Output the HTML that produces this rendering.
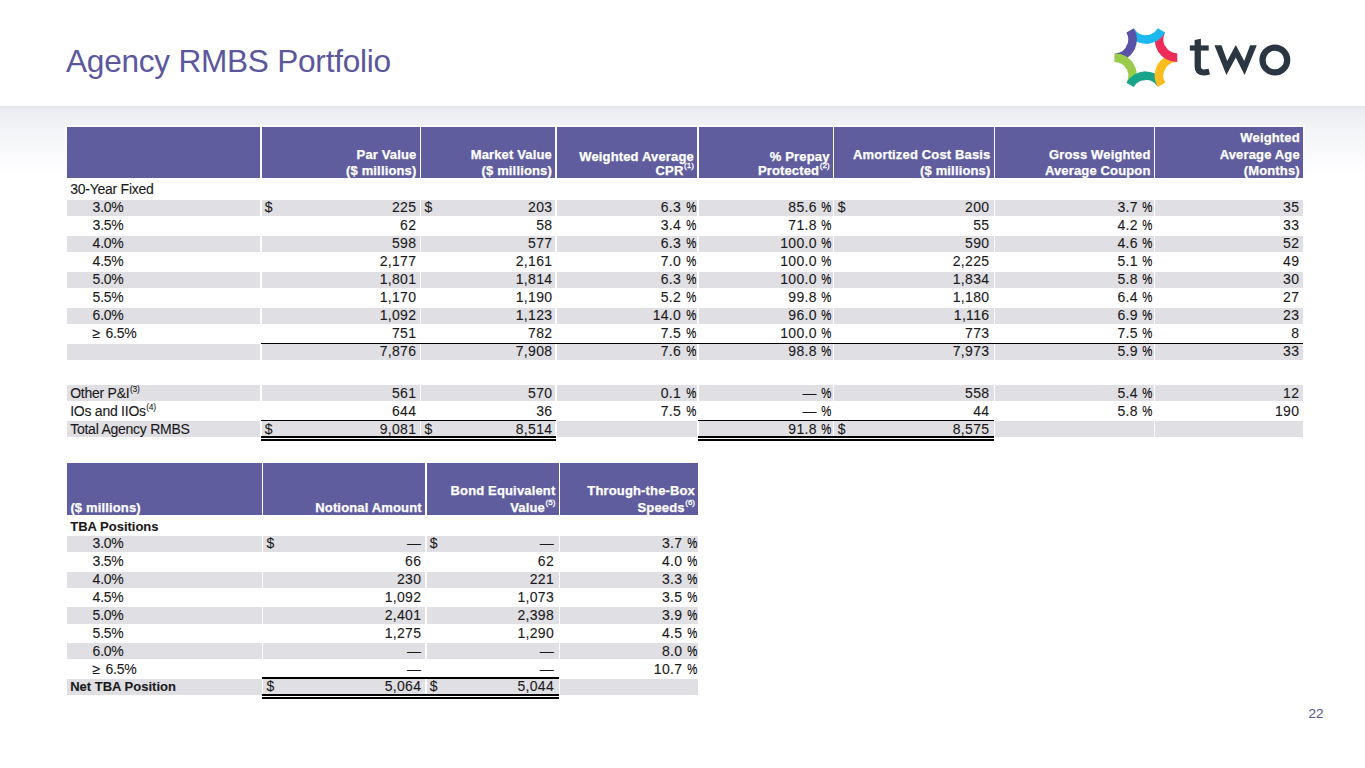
<!DOCTYPE html>
<html><head><meta charset="utf-8"><title>Agency RMBS Portfolio</title>
<style>
html,body{margin:0;padding:0;}
body{width:1365px;height:768px;position:relative;overflow:hidden;background:#fff;font-family:"Liberation Sans",sans-serif;color:#1a1a1a;}
.band{position:absolute;left:0;top:106px;width:1365px;height:72px;background:linear-gradient(to bottom,#e5e8eb 0px,#eceef1 7px,#f1f2f5 18px,#f6f7f9 36px,#fbfbfd 54px,#ffffff 72px);}
.t{position:absolute;white-space:nowrap;line-height:16px;height:16px;-webkit-text-stroke-width:0.1px;}
.n{letter-spacing:0.3px;}
.h{letter-spacing:0.15px;-webkit-text-stroke-width:0.25px;}
.pc{font-size:14px;letter-spacing:0;display:inline-block;transform:scaleX(0.81);transform-origin:100% 50%;margin-left:-1.7px;color:#000;-webkit-text-stroke-width:0.12px;}
.l{letter-spacing:-0.25px;}
.b{position:absolute;}
.sup{font-size:8.5px;position:relative;top:-6px;margin-left:0.5px;}
.hsup{font-size:8px;position:relative;top:-7px;margin-left:0.6px;letter-spacing:0;font-weight:normal;-webkit-text-stroke-width:0.3px;}
.title{position:absolute;left:66.0px;top:40.8px;font-size:31.6px;letter-spacing:-0.25px;line-height:40px;color:#5b579d;white-space:nowrap;}
</style></head><body>
<div class="band"></div>
<div class="title">Agency RMBS Portfolio</div>
<svg style="position:absolute;left:1105px;top:20px" width="195" height="80" viewBox="0 0 195 80">
<g fill="none" stroke-width="8.6" stroke-linecap="butt">
<path d="M43.95 19.17 A18.15 18.15 0 0 1 25.93 11.71" stroke="#1cb8ee"/>
<path d="M58.33 31.12 A18.15 18.15 0 0 1 55.79 11.78" stroke="#ec2d5a"/>
<path d="M55.18 49.54 A18.15 18.15 0 0 1 70.65 37.67" stroke="#fdbd20"/>
<path d="M37.65 56.03 A18.15 18.15 0 0 1 55.67 63.49" stroke="#18a48a"/>
<path d="M23.27 44.08 A18.15 18.15 0 0 1 25.81 63.42" stroke="#9acb4a"/>
<path d="M26.42 25.66 A18.15 18.15 0 0 1 10.95 37.53" stroke="#5a52a6"/>
<path d="M56.52 10.38 A18.15 18.15 0 0 1 40.80 19.45" stroke="#1cb8ee"/>
<path d="M72.24 37.60 A18.15 18.15 0 0 1 56.52 28.52" stroke="#ec2d5a"/>
<path d="M56.52 64.83 A18.15 18.15 0 0 1 56.52 46.68" stroke="#fdbd20"/>
<path d="M25.08 64.83 A18.15 18.15 0 0 1 40.80 55.75" stroke="#18a48a"/>
<path d="M9.36 37.60 A18.15 18.15 0 0 1 25.08 46.68" stroke="#9acb4a"/>
<path d="M25.08 10.38 A18.15 18.15 0 0 1 25.08 28.53" stroke="#5a52a6"/>
</g>
<g fill="#2a3742">
<path d="M89.60 20.10 L95.90 18.80 L95.90 46.50 Q95.90 49.40 99.00 49.40 L103.60 48.80 L105.00 54.40 Q101.50 55.40 98.50 55.40 Q89.60 55.40 89.60 46.50 Z"/>
<rect x="84.80" y="25.40" width="18.9" height="5.2"/>
<polygon points="109.40,25.20 116.50,25.20 122.20,41.00 130.80,25.00 139.20,41.00 145.10,25.20 151.80,25.20 139.60,54.90 130.80,37.40 121.40,54.90"/>
</g>
<circle cx="169.85" cy="40.00" r="12.35" fill="none" stroke="#2a3742" stroke-width="6.2"/>

</svg>
<div class="b" style="left:65.00px;top:125.00px;width:1240.00px;height:52.90px;background:#fbfbfd"></div>
<div class="b" style="left:67.00px;top:127.20px;width:192.95px;height:50.70px;background:#605d9f"></div>
<div class="b" style="left:261.65px;top:127.20px;width:158.00px;height:50.70px;background:#605d9f"></div>
<div class="b" style="left:421.35px;top:127.20px;width:133.80px;height:50.70px;background:#605d9f"></div>
<div class="b" style="left:556.85px;top:127.20px;width:140.20px;height:50.70px;background:#605d9f"></div>
<div class="b" style="left:698.75px;top:127.20px;width:134.00px;height:50.70px;background:#605d9f"></div>
<div class="b" style="left:834.45px;top:127.20px;width:159.20px;height:50.70px;background:#605d9f"></div>
<div class="b" style="left:995.35px;top:127.20px;width:158.40px;height:50.70px;background:#605d9f"></div>
<div class="b" style="left:1155.45px;top:127.20px;width:147.55px;height:50.70px;background:#605d9f"></div>
<div class="t h" style="right:948.55px;top:147px;font-size:13px;font-weight:bold;color:#fff;">Par Value</div>
<div class="t h" style="right:948.55px;top:163px;font-size:13px;font-weight:bold;color:#fff;">($ millions)</div>
<div class="t h" style="right:813.05px;top:147px;font-size:13px;font-weight:bold;color:#fff;">Market Value</div>
<div class="t h" style="right:813.05px;top:163px;font-size:13px;font-weight:bold;color:#fff;">($ millions)</div>
<div class="t h" style="right:671.15px;top:149px;font-size:13px;font-weight:bold;color:#fff;">Weighted Average</div>
<div class="t h" style="right:671.15px;top:163px;font-size:13px;font-weight:bold;color:#fff;">CPR<span class="hsup">(1)</span></div>
<div class="t h" style="right:535.45px;top:149px;font-size:13px;font-weight:bold;color:#fff;">% Prepay</div>
<div class="t h" style="right:535.45px;top:163px;font-size:13px;font-weight:bold;color:#fff;">Protected<span class="hsup">(2)</span></div>
<div class="t h" style="right:374.55px;top:147px;font-size:13px;font-weight:bold;color:#fff;">Amortized Cost Basis</div>
<div class="t h" style="right:374.55px;top:163px;font-size:13px;font-weight:bold;color:#fff;">($ millions)</div>
<div class="t h" style="right:214.45px;top:147px;font-size:13px;font-weight:bold;color:#fff;">Gross Weighted</div>
<div class="t h" style="right:214.45px;top:163px;font-size:13px;font-weight:bold;color:#fff;">Average Coupon</div>
<div class="t h" style="right:65.20px;top:130px;font-size:13px;font-weight:bold;color:#fff;">Weighted</div>
<div class="t h" style="right:65.20px;top:147px;font-size:13px;font-weight:bold;color:#fff;">Average Age</div>
<div class="t h" style="right:65.20px;top:163px;font-size:13px;font-weight:bold;color:#fff;">(Months)</div>
<div class="t l" style="left:70.20px;top:181px;font-size:14px;">30-Year Fixed</div>
<div class="b" style="left:67.00px;top:199.50px;width:192.95px;height:16.30px;background:#e0dfe4"></div>
<div class="b" style="left:261.65px;top:199.50px;width:158.00px;height:16.30px;background:#e0dfe4"></div>
<div class="b" style="left:421.35px;top:199.50px;width:133.80px;height:16.30px;background:#e0dfe4"></div>
<div class="b" style="left:556.85px;top:199.50px;width:140.20px;height:16.30px;background:#e0dfe4"></div>
<div class="b" style="left:698.75px;top:199.50px;width:134.00px;height:16.30px;background:#e0dfe4"></div>
<div class="b" style="left:834.45px;top:199.50px;width:159.20px;height:16.30px;background:#e0dfe4"></div>
<div class="b" style="left:995.35px;top:199.50px;width:158.40px;height:16.30px;background:#e0dfe4"></div>
<div class="b" style="left:1155.45px;top:199.50px;width:147.55px;height:16.30px;background:#e0dfe4"></div>
<div class="t n" style="left:264.85px;top:199px;font-size:14px;">$</div>
<div class="t n" style="right:948.75px;top:199px;font-size:14px;">225</div>
<div class="t n" style="left:424.55px;top:199px;font-size:14px;">$</div>
<div class="t n" style="right:812.70px;top:199px;font-size:14px;">203</div>
<div class="t n" style="right:668.95px;top:199px;font-size:14px;">6.3 <span class="pc">%</span></div>
<div class="t n" style="right:533.25px;top:199px;font-size:14px;">85.6 <span class="pc">%</span></div>
<div class="t n" style="left:837.65px;top:199px;font-size:14px;">$</div>
<div class="t n" style="right:375.70px;top:199px;font-size:14px;">200</div>
<div class="t n" style="right:212.25px;top:199px;font-size:14px;">3.7 <span class="pc">%</span></div>
<div class="t n" style="right:65.75px;top:199px;font-size:14px;">35</div>
<div class="t l" style="left:92.60px;top:199px;font-size:14px;">3.0%</div>
<div class="t n" style="right:948.75px;top:217px;font-size:14px;">62</div>
<div class="t n" style="right:812.70px;top:217px;font-size:14px;">58</div>
<div class="t n" style="right:668.95px;top:217px;font-size:14px;">3.4 <span class="pc">%</span></div>
<div class="t n" style="right:533.25px;top:217px;font-size:14px;">71.8 <span class="pc">%</span></div>
<div class="t n" style="right:375.70px;top:217px;font-size:14px;">55</div>
<div class="t n" style="right:212.25px;top:217px;font-size:14px;">4.2 <span class="pc">%</span></div>
<div class="t n" style="right:65.75px;top:217px;font-size:14px;">33</div>
<div class="t l" style="left:92.60px;top:217px;font-size:14px;">3.5%</div>
<div class="b" style="left:67.00px;top:235.60px;width:192.95px;height:16.30px;background:#e0dfe4"></div>
<div class="b" style="left:261.65px;top:235.60px;width:158.00px;height:16.30px;background:#e0dfe4"></div>
<div class="b" style="left:421.35px;top:235.60px;width:133.80px;height:16.30px;background:#e0dfe4"></div>
<div class="b" style="left:556.85px;top:235.60px;width:140.20px;height:16.30px;background:#e0dfe4"></div>
<div class="b" style="left:698.75px;top:235.60px;width:134.00px;height:16.30px;background:#e0dfe4"></div>
<div class="b" style="left:834.45px;top:235.60px;width:159.20px;height:16.30px;background:#e0dfe4"></div>
<div class="b" style="left:995.35px;top:235.60px;width:158.40px;height:16.30px;background:#e0dfe4"></div>
<div class="b" style="left:1155.45px;top:235.60px;width:147.55px;height:16.30px;background:#e0dfe4"></div>
<div class="t n" style="right:948.75px;top:235px;font-size:14px;">598</div>
<div class="t n" style="right:812.70px;top:235px;font-size:14px;">577</div>
<div class="t n" style="right:668.95px;top:235px;font-size:14px;">6.3 <span class="pc">%</span></div>
<div class="t n" style="right:533.25px;top:235px;font-size:14px;">100.0 <span class="pc">%</span></div>
<div class="t n" style="right:375.70px;top:235px;font-size:14px;">590</div>
<div class="t n" style="right:212.25px;top:235px;font-size:14px;">4.6 <span class="pc">%</span></div>
<div class="t n" style="right:65.75px;top:235px;font-size:14px;">52</div>
<div class="t l" style="left:92.60px;top:235px;font-size:14px;">4.0%</div>
<div class="t n" style="right:948.75px;top:253px;font-size:14px;">2,177</div>
<div class="t n" style="right:812.70px;top:253px;font-size:14px;">2,161</div>
<div class="t n" style="right:668.95px;top:253px;font-size:14px;">7.0 <span class="pc">%</span></div>
<div class="t n" style="right:533.25px;top:253px;font-size:14px;">100.0 <span class="pc">%</span></div>
<div class="t n" style="right:375.70px;top:253px;font-size:14px;">2,225</div>
<div class="t n" style="right:212.25px;top:253px;font-size:14px;">5.1 <span class="pc">%</span></div>
<div class="t n" style="right:65.75px;top:253px;font-size:14px;">49</div>
<div class="t l" style="left:92.60px;top:253px;font-size:14px;">4.5%</div>
<div class="b" style="left:67.00px;top:271.70px;width:192.95px;height:16.30px;background:#e0dfe4"></div>
<div class="b" style="left:261.65px;top:271.70px;width:158.00px;height:16.30px;background:#e0dfe4"></div>
<div class="b" style="left:421.35px;top:271.70px;width:133.80px;height:16.30px;background:#e0dfe4"></div>
<div class="b" style="left:556.85px;top:271.70px;width:140.20px;height:16.30px;background:#e0dfe4"></div>
<div class="b" style="left:698.75px;top:271.70px;width:134.00px;height:16.30px;background:#e0dfe4"></div>
<div class="b" style="left:834.45px;top:271.70px;width:159.20px;height:16.30px;background:#e0dfe4"></div>
<div class="b" style="left:995.35px;top:271.70px;width:158.40px;height:16.30px;background:#e0dfe4"></div>
<div class="b" style="left:1155.45px;top:271.70px;width:147.55px;height:16.30px;background:#e0dfe4"></div>
<div class="t n" style="right:948.75px;top:271px;font-size:14px;">1,801</div>
<div class="t n" style="right:812.70px;top:271px;font-size:14px;">1,814</div>
<div class="t n" style="right:668.95px;top:271px;font-size:14px;">6.3 <span class="pc">%</span></div>
<div class="t n" style="right:533.25px;top:271px;font-size:14px;">100.0 <span class="pc">%</span></div>
<div class="t n" style="right:375.70px;top:271px;font-size:14px;">1,834</div>
<div class="t n" style="right:212.25px;top:271px;font-size:14px;">5.8 <span class="pc">%</span></div>
<div class="t n" style="right:65.75px;top:271px;font-size:14px;">30</div>
<div class="t l" style="left:92.60px;top:271px;font-size:14px;">5.0%</div>
<div class="t n" style="right:948.75px;top:289px;font-size:14px;">1,170</div>
<div class="t n" style="right:812.70px;top:289px;font-size:14px;">1,190</div>
<div class="t n" style="right:668.95px;top:289px;font-size:14px;">5.2 <span class="pc">%</span></div>
<div class="t n" style="right:533.25px;top:289px;font-size:14px;">99.8 <span class="pc">%</span></div>
<div class="t n" style="right:375.70px;top:289px;font-size:14px;">1,180</div>
<div class="t n" style="right:212.25px;top:289px;font-size:14px;">6.4 <span class="pc">%</span></div>
<div class="t n" style="right:65.75px;top:289px;font-size:14px;">27</div>
<div class="t l" style="left:92.60px;top:289px;font-size:14px;">5.5%</div>
<div class="b" style="left:67.00px;top:307.80px;width:192.95px;height:16.30px;background:#e0dfe4"></div>
<div class="b" style="left:261.65px;top:307.80px;width:158.00px;height:16.30px;background:#e0dfe4"></div>
<div class="b" style="left:421.35px;top:307.80px;width:133.80px;height:16.30px;background:#e0dfe4"></div>
<div class="b" style="left:556.85px;top:307.80px;width:140.20px;height:16.30px;background:#e0dfe4"></div>
<div class="b" style="left:698.75px;top:307.80px;width:134.00px;height:16.30px;background:#e0dfe4"></div>
<div class="b" style="left:834.45px;top:307.80px;width:159.20px;height:16.30px;background:#e0dfe4"></div>
<div class="b" style="left:995.35px;top:307.80px;width:158.40px;height:16.30px;background:#e0dfe4"></div>
<div class="b" style="left:1155.45px;top:307.80px;width:147.55px;height:16.30px;background:#e0dfe4"></div>
<div class="t n" style="right:948.75px;top:307px;font-size:14px;">1,092</div>
<div class="t n" style="right:812.70px;top:307px;font-size:14px;">1,123</div>
<div class="t n" style="right:668.95px;top:307px;font-size:14px;">14.0 <span class="pc">%</span></div>
<div class="t n" style="right:533.25px;top:307px;font-size:14px;">96.0 <span class="pc">%</span></div>
<div class="t n" style="right:375.70px;top:307px;font-size:14px;">1,116</div>
<div class="t n" style="right:212.25px;top:307px;font-size:14px;">6.9 <span class="pc">%</span></div>
<div class="t n" style="right:65.75px;top:307px;font-size:14px;">23</div>
<div class="t l" style="left:92.60px;top:307px;font-size:14px;">6.0%</div>
<div class="t n" style="right:948.75px;top:325px;font-size:14px;">751</div>
<div class="t n" style="right:812.70px;top:325px;font-size:14px;">782</div>
<div class="t n" style="right:668.95px;top:325px;font-size:14px;">7.5 <span class="pc">%</span></div>
<div class="t n" style="right:533.25px;top:325px;font-size:14px;">100.0 <span class="pc">%</span></div>
<div class="t n" style="right:375.70px;top:325px;font-size:14px;">773</div>
<div class="t n" style="right:212.25px;top:325px;font-size:14px;">7.5 <span class="pc">%</span></div>
<div class="t n" style="right:65.75px;top:325px;font-size:14px;">8</div>
<div class="t l" style="left:92.60px;top:325px;font-size:14px;">&#8805;<span style="margin-left:1.8px"> </span>6.5%</div>
<div class="b" style="left:67.00px;top:343.90px;width:192.95px;height:16.30px;background:#e0dfe4"></div>
<div class="b" style="left:261.65px;top:343.90px;width:158.00px;height:16.30px;background:#e0dfe4"></div>
<div class="b" style="left:421.35px;top:343.90px;width:133.80px;height:16.30px;background:#e0dfe4"></div>
<div class="b" style="left:556.85px;top:343.90px;width:140.20px;height:16.30px;background:#e0dfe4"></div>
<div class="b" style="left:698.75px;top:343.90px;width:134.00px;height:16.30px;background:#e0dfe4"></div>
<div class="b" style="left:834.45px;top:343.90px;width:159.20px;height:16.30px;background:#e0dfe4"></div>
<div class="b" style="left:995.35px;top:343.90px;width:158.40px;height:16.30px;background:#e0dfe4"></div>
<div class="b" style="left:1155.45px;top:343.90px;width:147.55px;height:16.30px;background:#e0dfe4"></div>
<div class="t n" style="right:948.75px;top:343px;font-size:14px;">7,876</div>
<div class="t n" style="right:812.70px;top:343px;font-size:14px;">7,908</div>
<div class="t n" style="right:668.95px;top:343px;font-size:14px;">7.6 <span class="pc">%</span></div>
<div class="t n" style="right:533.25px;top:343px;font-size:14px;">98.8 <span class="pc">%</span></div>
<div class="t n" style="right:375.70px;top:343px;font-size:14px;">7,973</div>
<div class="t n" style="right:212.25px;top:343px;font-size:14px;">5.9 <span class="pc">%</span></div>
<div class="t n" style="right:65.75px;top:343px;font-size:14px;">33</div>
<div class="b" style="left:261.35px;top:342.60px;width:1041.65px;height:1.30px;background:#000"></div>
<div class="b" style="left:67.00px;top:384.95px;width:192.95px;height:16.30px;background:#e0dfe4"></div>
<div class="b" style="left:261.65px;top:384.95px;width:158.00px;height:16.30px;background:#e0dfe4"></div>
<div class="b" style="left:421.35px;top:384.95px;width:133.80px;height:16.30px;background:#e0dfe4"></div>
<div class="b" style="left:556.85px;top:384.95px;width:140.20px;height:16.30px;background:#e0dfe4"></div>
<div class="b" style="left:698.75px;top:384.95px;width:134.00px;height:16.30px;background:#e0dfe4"></div>
<div class="b" style="left:834.45px;top:384.95px;width:159.20px;height:16.30px;background:#e0dfe4"></div>
<div class="b" style="left:995.35px;top:384.95px;width:158.40px;height:16.30px;background:#e0dfe4"></div>
<div class="b" style="left:1155.45px;top:384.95px;width:147.55px;height:16.30px;background:#e0dfe4"></div>
<div class="t n" style="right:948.75px;top:385px;font-size:14px;">561</div>
<div class="t n" style="right:812.70px;top:385px;font-size:14px;">570</div>
<div class="t n" style="right:668.95px;top:385px;font-size:14px;">0.1 <span class="pc">%</span></div>
<div class="t n" style="right:533.25px;top:385px;font-size:14px;">&#8212; <span class="pc">%</span></div>
<div class="t n" style="right:375.70px;top:385px;font-size:14px;">558</div>
<div class="t n" style="right:212.25px;top:385px;font-size:14px;">5.4 <span class="pc">%</span></div>
<div class="t n" style="right:65.75px;top:385px;font-size:14px;">12</div>
<div class="t l" style="left:70.20px;top:385px;font-size:14px;">Other P&amp;I<span class="sup">(3)</span></div>
<div class="t n" style="right:948.75px;top:403px;font-size:14px;">644</div>
<div class="t n" style="right:812.70px;top:403px;font-size:14px;">36</div>
<div class="t n" style="right:668.95px;top:403px;font-size:14px;">7.5 <span class="pc">%</span></div>
<div class="t n" style="right:533.25px;top:403px;font-size:14px;">&#8212; <span class="pc">%</span></div>
<div class="t n" style="right:375.70px;top:403px;font-size:14px;">44</div>
<div class="t n" style="right:212.25px;top:403px;font-size:14px;">5.8 <span class="pc">%</span></div>
<div class="t n" style="right:65.75px;top:403px;font-size:14px;">190</div>
<div class="t l" style="left:70.20px;top:403px;font-size:14px;">IOs and IIOs<span class="sup">(4)</span></div>
<div class="b" style="left:67.00px;top:421.05px;width:192.95px;height:16.30px;background:#e0dfe4"></div>
<div class="b" style="left:261.65px;top:421.05px;width:158.00px;height:16.30px;background:#e0dfe4"></div>
<div class="b" style="left:421.35px;top:421.05px;width:133.80px;height:16.30px;background:#e0dfe4"></div>
<div class="b" style="left:556.85px;top:421.05px;width:140.20px;height:16.30px;background:#e0dfe4"></div>
<div class="b" style="left:698.75px;top:421.05px;width:134.00px;height:16.30px;background:#e0dfe4"></div>
<div class="b" style="left:834.45px;top:421.05px;width:159.20px;height:16.30px;background:#e0dfe4"></div>
<div class="b" style="left:995.35px;top:421.05px;width:158.40px;height:16.30px;background:#e0dfe4"></div>
<div class="b" style="left:1155.45px;top:421.05px;width:147.55px;height:16.30px;background:#e0dfe4"></div>
<div class="t n" style="left:264.85px;top:421px;font-size:14px;">$</div>
<div class="t n" style="right:948.75px;top:421px;font-size:14px;">9,081</div>
<div class="t n" style="left:424.55px;top:421px;font-size:14px;">$</div>
<div class="t n" style="right:812.70px;top:421px;font-size:14px;">8,514</div>
<div class="t n" style="right:533.25px;top:421px;font-size:14px;">91.8 <span class="pc">%</span></div>
<div class="t n" style="left:837.65px;top:421px;font-size:14px;">$</div>
<div class="t n" style="right:375.70px;top:421px;font-size:14px;">8,575</div>
<div class="t l" style="left:70.20px;top:421px;font-size:14px;">Total Agency RMBS</div>
<div class="b" style="left:261.35px;top:419.75px;width:294.65px;height:1.30px;background:#000"></div>
<div class="b" style="left:261.35px;top:436.25px;width:294.65px;height:1.60px;background:#000"></div>
<div class="b" style="left:261.35px;top:439.25px;width:294.65px;height:1.70px;background:#000"></div>
<div class="b" style="left:697.90px;top:419.75px;width:296.60px;height:1.30px;background:#000"></div>
<div class="b" style="left:697.90px;top:436.25px;width:296.60px;height:1.60px;background:#000"></div>
<div class="b" style="left:697.90px;top:439.25px;width:296.60px;height:1.70px;background:#000"></div>
<div class="b" style="left:65.00px;top:461.00px;width:635.20px;height:53.70px;background:#fdfdfe"></div>
<div class="b" style="left:67.00px;top:463.20px;width:194.55px;height:51.50px;background:#605d9f"></div>
<div class="b" style="left:263.25px;top:463.20px;width:161.70px;height:51.50px;background:#605d9f"></div>
<div class="b" style="left:426.65px;top:463.20px;width:131.90px;height:51.50px;background:#605d9f"></div>
<div class="b" style="left:560.25px;top:463.20px;width:137.95px;height:51.50px;background:#605d9f"></div>
<div class="t h" style="left:70.40px;top:500px;font-size:13px;font-weight:bold;color:#fff;">($ millions)</div>
<div class="t h" style="right:943.25px;top:500px;font-size:13px;font-weight:bold;color:#fff;">Notional Amount</div>
<div class="t h" style="right:809.65px;top:483px;font-size:13px;font-weight:bold;color:#fff;">Bond Equivalent</div>
<div class="t h" style="right:809.65px;top:500px;font-size:13px;font-weight:bold;color:#fff;">Value<span class="hsup">(5)</span></div>
<div class="t h" style="right:670.00px;top:483px;font-size:13px;font-weight:bold;color:#fff;">Through-the-Box</div>
<div class="t h" style="right:670.00px;top:500px;font-size:13px;font-weight:bold;color:#fff;">Speeds<span class="hsup">(6)</span></div>
<div class="t" style="left:70.20px;top:519px;font-size:13px;font-weight:bold;">TBA Positions</div>
<div class="b" style="left:67.00px;top:535.90px;width:194.55px;height:16.30px;background:#e0dfe4"></div>
<div class="b" style="left:263.25px;top:535.90px;width:161.70px;height:16.30px;background:#e0dfe4"></div>
<div class="b" style="left:426.65px;top:535.90px;width:131.90px;height:16.30px;background:#e0dfe4"></div>
<div class="b" style="left:560.25px;top:535.90px;width:137.95px;height:16.30px;background:#e0dfe4"></div>
<div class="t n" style="left:266.45px;top:535px;font-size:14px;">$</div>
<div class="t n" style="right:943.75px;top:535px;font-size:14px;">&#8212;</div>
<div class="t n" style="left:429.85px;top:535px;font-size:14px;">$</div>
<div class="t n" style="right:811.00px;top:535px;font-size:14px;">&#8212;</div>
<div class="t n" style="right:667.80px;top:535px;font-size:14px;">3.7 <span class="pc">%</span></div>
<div class="t l" style="left:92.60px;top:535px;font-size:14px;">3.0%</div>
<div class="t n" style="right:943.75px;top:553px;font-size:14px;">66</div>
<div class="t n" style="right:811.00px;top:553px;font-size:14px;">62</div>
<div class="t n" style="right:667.80px;top:553px;font-size:14px;">4.0 <span class="pc">%</span></div>
<div class="t l" style="left:92.60px;top:553px;font-size:14px;">3.5%</div>
<div class="b" style="left:67.00px;top:571.62px;width:194.55px;height:16.30px;background:#e0dfe4"></div>
<div class="b" style="left:263.25px;top:571.62px;width:161.70px;height:16.30px;background:#e0dfe4"></div>
<div class="b" style="left:426.65px;top:571.62px;width:131.90px;height:16.30px;background:#e0dfe4"></div>
<div class="b" style="left:560.25px;top:571.62px;width:137.95px;height:16.30px;background:#e0dfe4"></div>
<div class="t n" style="right:943.75px;top:571px;font-size:14px;">230</div>
<div class="t n" style="right:811.00px;top:571px;font-size:14px;">221</div>
<div class="t n" style="right:667.80px;top:571px;font-size:14px;">3.3 <span class="pc">%</span></div>
<div class="t l" style="left:92.60px;top:571px;font-size:14px;">4.0%</div>
<div class="t n" style="right:943.75px;top:589px;font-size:14px;">1,092</div>
<div class="t n" style="right:811.00px;top:589px;font-size:14px;">1,073</div>
<div class="t n" style="right:667.80px;top:589px;font-size:14px;">3.5 <span class="pc">%</span></div>
<div class="t l" style="left:92.60px;top:589px;font-size:14px;">4.5%</div>
<div class="b" style="left:67.00px;top:607.34px;width:194.55px;height:16.30px;background:#e0dfe4"></div>
<div class="b" style="left:263.25px;top:607.34px;width:161.70px;height:16.30px;background:#e0dfe4"></div>
<div class="b" style="left:426.65px;top:607.34px;width:131.90px;height:16.30px;background:#e0dfe4"></div>
<div class="b" style="left:560.25px;top:607.34px;width:137.95px;height:16.30px;background:#e0dfe4"></div>
<div class="t n" style="right:943.75px;top:607px;font-size:14px;">2,401</div>
<div class="t n" style="right:811.00px;top:607px;font-size:14px;">2,398</div>
<div class="t n" style="right:667.80px;top:607px;font-size:14px;">3.9 <span class="pc">%</span></div>
<div class="t l" style="left:92.60px;top:607px;font-size:14px;">5.0%</div>
<div class="t n" style="right:943.75px;top:625px;font-size:14px;">1,275</div>
<div class="t n" style="right:811.00px;top:625px;font-size:14px;">1,290</div>
<div class="t n" style="right:667.80px;top:625px;font-size:14px;">4.5 <span class="pc">%</span></div>
<div class="t l" style="left:92.60px;top:625px;font-size:14px;">5.5%</div>
<div class="b" style="left:67.00px;top:643.06px;width:194.55px;height:16.30px;background:#e0dfe4"></div>
<div class="b" style="left:263.25px;top:643.06px;width:161.70px;height:16.30px;background:#e0dfe4"></div>
<div class="b" style="left:426.65px;top:643.06px;width:131.90px;height:16.30px;background:#e0dfe4"></div>
<div class="b" style="left:560.25px;top:643.06px;width:137.95px;height:16.30px;background:#e0dfe4"></div>
<div class="t n" style="right:943.75px;top:643px;font-size:14px;">&#8212;</div>
<div class="t n" style="right:811.00px;top:643px;font-size:14px;">&#8212;</div>
<div class="t n" style="right:667.80px;top:643px;font-size:14px;">8.0 <span class="pc">%</span></div>
<div class="t l" style="left:92.60px;top:643px;font-size:14px;">6.0%</div>
<div class="t n" style="right:943.75px;top:661px;font-size:14px;">&#8212;</div>
<div class="t n" style="right:811.00px;top:661px;font-size:14px;">&#8212;</div>
<div class="t n" style="right:667.80px;top:661px;font-size:14px;">10.7 <span class="pc">%</span></div>
<div class="t l" style="left:92.60px;top:661px;font-size:14px;">&#8805;<span style="margin-left:1.8px"> </span>6.5%</div>
<div class="b" style="left:67.00px;top:678.78px;width:194.55px;height:16.30px;background:#e0dfe4"></div>
<div class="b" style="left:263.25px;top:678.78px;width:161.70px;height:16.30px;background:#e0dfe4"></div>
<div class="b" style="left:426.65px;top:678.78px;width:131.90px;height:16.30px;background:#e0dfe4"></div>
<div class="b" style="left:560.25px;top:678.78px;width:137.95px;height:16.30px;background:#e0dfe4"></div>
<div class="t n" style="left:266.45px;top:678px;font-size:14px;">$</div>
<div class="t n" style="right:943.75px;top:678px;font-size:14px;">5,064</div>
<div class="t n" style="left:429.85px;top:678px;font-size:14px;">$</div>
<div class="t n" style="right:811.00px;top:678px;font-size:14px;">5,044</div>
<div class="t" style="left:70.20px;top:679px;font-size:13px;font-weight:bold;">Net TBA Position</div>
<div class="b" style="left:262.40px;top:677.48px;width:297.00px;height:1.30px;background:#000"></div>
<div class="b" style="left:262.40px;top:693.98px;width:297.00px;height:1.60px;background:#000"></div>
<div class="b" style="left:262.40px;top:696.98px;width:297.00px;height:1.70px;background:#000"></div>
<div class="t" style="left:1308.40px;top:706px;font-size:13.5px;color:#5d5b8a;">22</div>
</body></html>
